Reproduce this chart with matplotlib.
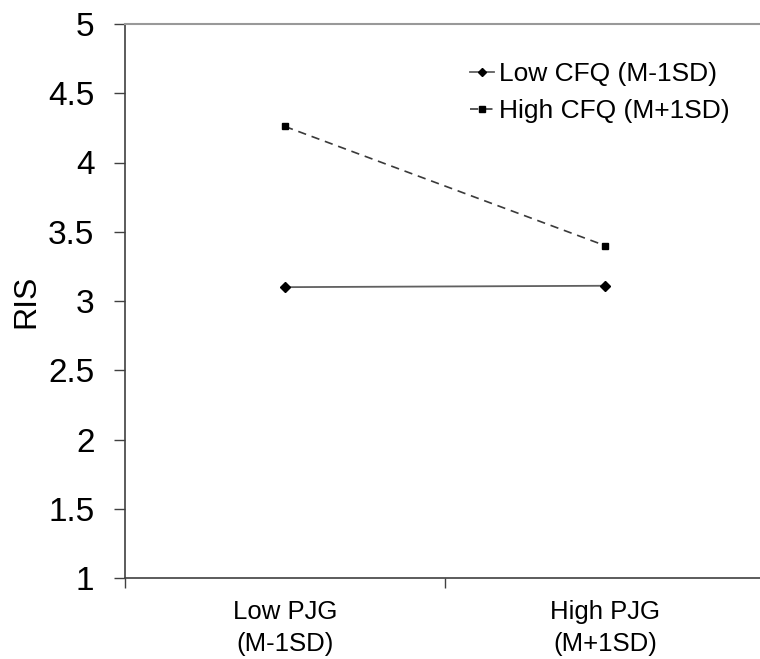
import matplotlib
matplotlib.use("Agg")
import matplotlib.pyplot as plt
import numpy as np

plt.rcParams['font.family'] = ['Liberation Sans', 'DejaVu Sans']

categories = ["Low PJG\n(M-1SD)", "High PJG\n(M+1SD)"]
low_cfq = [3.10, 3.11]
high_cfq = [4.26, 3.40]
series_labels = ["Low CFQ (M-1SD)", "High CFQ (M+1SD)"]
yticks = [1, 1.5, 2, 2.5, 3, 3.5, 4, 4.5, 5]
ytick_labels = ["1", "1.5", "2", "2.5", "3", "3.5", "4", "4.5", "5"]

W, H = 760, 659
fig = plt.figure(figsize=(W / 100, H / 100), dpi=100)
ax = fig.add_axes([125 / W, 1 - 578 / H, 640 / W, 554 / H])

x = np.arange(len(categories)) + 0.5
ax.plot(x, low_cfq, color='#606060', lw=1.3, marker='D', markersize=5,
        markerfacecolor='black', markeredgecolor='black', label=series_labels[0])
ax.plot(x, high_cfq, color='#3a3a3a', lw=1.2, ls=(0, (5, 3.5)), marker='s', markersize=4.5,
        markerfacecolor='black', markeredgecolor='black', label=series_labels[1])

ax.set_xlim(0, 2)
ax.set_ylim(1, 5)
ax.set_xticks([0, 1, 2])
ax.set_xticklabels([])
ax.set_xticks(x, categories, minor=True)
ax.tick_params(axis='x', which='major', length=7, width=1, color='#404040', direction='out')
ax.tick_params(axis='x', which='minor', length=0, pad=16, labelsize=18.5)
for lbl in ax.get_xticklabels(minor=True):
    lbl.set_linespacing(1.4)

ax.set_yticks(yticks, ytick_labels)
ax.tick_params(axis='y', length=8, width=1, color='#404040', pad=14, labelsize=24)

for s in ['left', 'bottom']:
    ax.spines[s].set_color('#404040')
    ax.spines[s].set_linewidth(1.2)
ax.spines['top'].set_color('#999999')
ax.spines['top'].set_linewidth(1.5)
ax.spines['right'].set_visible(False)

ax.set_ylabel("RIS", fontsize=23)
ax.yaxis.set_label_coords(-(125 - 41) / 640, 0.5)

leg = ax.legend(loc='upper left', bbox_to_anchor=(470 / W, 1 - 62 / H),
                bbox_transform=fig.transFigure, frameon=False, fontsize=19,
                handlelength=0.9, handletextpad=0.2, labelspacing=0.5,
                borderpad=0, borderaxespad=0, markerscale=0.9)

fig.savefig("out.png", dpi=100)
